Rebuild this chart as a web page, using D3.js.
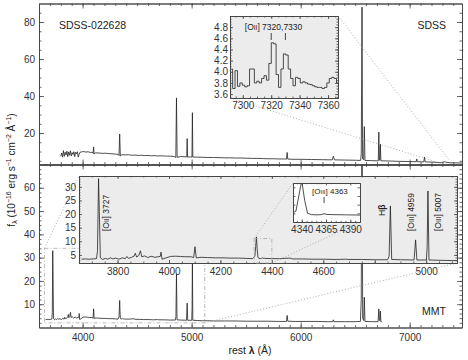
<!DOCTYPE html>
<html>
<head>
<meta charset="utf-8">
<script src="https://cdn.jsdelivr.net/npm/d3@7"></script>
<style>
body { margin: 0; background: #fff; }
svg { font-family: "Liberation Sans", "DejaVu Sans", sans-serif; }
.axis path { stroke: #444; stroke-width: 0.9; fill: none; }
.axis line { stroke: #444; stroke-width: 0.8; }
.axis text { fill: #333; }
.spec { fill: none; stroke: #222; stroke-width: 0.8; stroke-linejoin: round; }
.dot { stroke: #999; stroke-width: 0.8; stroke-dasharray: 1,2; fill: none; }
.dashdot { stroke: #aaa; stroke-width: 0.8; stroke-dasharray: 4,2,1,2; fill: none; }
</style>
</head>
<body>
<svg id="chart" width="468" height="360"></svg>
<script>
// SDSS spectrum, top panel (rest wavelength in A, flux in 1e-16 erg/s/cm2/A)
const sdssLam = [3800,3808,3816,3824,3832,3840,3848,3856,3864,3872,3880,3888,3896,3904,3912,3920,3928,3936,3944,3952,3960,3968,3976,3990,4010,4030,4050,4070,4090,4097,4101,4105,4120,4150,4180,4210,4240,4270,4300,4325,4334,4340,4346,4360,4390,4420,4450,4480,4510,4540,4570,4600,4630,4660,4690,4720,4750,4780,4810,4840,4855,4861,4867,4900,4930,4955,4959,4963,4990,5003,5007,5011,5050,5100,5150,5200,5250,5300,5350,5400,5450,5500,5550,5600,5650,5700,5750,5800,5850,5870,5876,5882,5950,6000,6100,6200,6290,6300,6310,6400,6500,6550,6556,6563,6568,6578,6584,6590,6650,6700,6712,6717,6722,6727,6731,6736,6800,6900,7000,7060,7065,7070,7130,7136,7142,7200,7290,7320,7330,7370,7420,7480];
const sdssFlux = [7.5,9.2,7.0,10.5,7.4,9.6,8.2,10.2,7.2,9.8,8.0,10.4,7.6,9.4,8.4,9.9,7.3,9.6,8.8,9.9,7.0,8.5,9.6,9.8,10.0,9.7,9.9,9.5,9.6,9.0,12.5,8.7,9.3,9.2,9.0,9.1,8.9,8.8,8.6,8.5,7.8,19.5,7.6,8.3,8.2,8.3,8.0,8.1,7.9,8.0,7.8,7.9,7.7,7.8,7.6,7.7,7.6,7.5,7.5,7.3,6.8,39,6.9,7.3,7.2,7.1,17,7.0,7.1,7.0,31,7.0,7.0,6.9,6.8,6.8,6.7,6.6,6.6,6.5,6.5,6.4,6.3,6.3,6.2,6.1,6.1,6.0,6.0,5.9,9.5,5.9,5.8,5.8,5.7,5.6,5.5,7.5,5.5,5.4,5.3,5.2,9,88,6,5.5,23.5,5.2,5.1,5.0,5.0,20.5,5.3,5.4,14,5.0,4.9,4.7,4.6,4.5,6,4.5,4.4,7,4.4,4.3,4.0,4.5,4.3,3.9,3.9,3.8];

// SDSS pixels around [OII] 7320,7330 (top inset)
const zoomLam = [7292,7293.7,7295.4,7297.1,7298.8,7300.5,7302.2,7303.9,7305.6,7307.3,7309,7310.7,7312.4,7314.1,7315.8,7317.5,7319.2,7320.9,7322.6,7324.3,7326,7327.7,7329.4,7331.1,7332.8,7334.5,7336.2,7337.9,7339.6,7341.3,7343,7344.7,7346.4,7348.1,7349.8,7351.5,7353.2,7354.9,7356.6,7358.3,7360,7361.7,7363.4,7365.1,7366.8];
const zoomFlux = [4.05,3.70,4.02,3.74,3.80,3.76,3.73,3.75,4.05,4.05,3.80,3.83,3.80,3.88,3.93,3.85,4.15,4.52,4.50,3.95,3.72,4.05,4.32,4.30,4.05,3.88,3.75,3.90,3.88,3.80,3.82,3.80,3.78,3.77,3.75,3.73,3.72,3.72,3.70,3.72,3.80,3.88,3.90,3.88,3.80];

// MMT spectrum, bottom panel
const mmtLam = [3660,3675,3690,3705,3718,3722,3726,3729,3733,3742,3752,3762,3772,3782,3792,3805,3818,3830,3836,3842,3855,3864,3869,3874,3882,3889,3894,3905,3918,3930,3945,3958,3966,3969,3973,3980,3992,4005,4025,4045,4065,4085,4096,4101,4106,4125,4150,4180,4210,4240,4270,4300,4325,4334,4337,4340,4343,4346,4350,4356,4360,4363,4366,4372,4385,4400,4430,4471,4480,4520,4560,4600,4650,4686,4700,4750,4800,4850,4856,4861,4866,4900,4953,4959,4964,5001,5004,5007,5011,5050,5100,5150,5200,5300,5400,5500,5600,5700,5800,5870,5876,5882,5950,6050,6150,6250,6294,6300,6306,6400,6500,6548,6556,6563,6569,6578,6584,6590,6650,6710,6717,6722,6727,6731,6736,6745];
const mmtFlux = [3.4,3.5,3.4,3.5,3.6,6.5,33,21,3.9,3.3,3.7,3.4,3.9,3.5,3.8,3.4,3.9,3.6,4.4,3.7,4.1,4.5,5.6,4.2,4.7,6.5,4.3,4.6,4.0,4.5,4.1,4.3,4.4,6.0,3.4,3.6,4.0,4.4,4.5,4.4,4.3,4.3,4.0,8.0,3.9,4.1,4.0,3.9,3.9,3.8,3.8,3.7,3.6,4.5,8,11.6,7,4.0,3.7,3.65,3.7,3.9,3.75,3.7,3.65,3.6,3.6,3.8,3.5,3.5,3.4,3.4,3.3,3.4,3.3,3.3,3.2,3.2,4.5,23,3.3,3.2,3.1,10.5,3.1,3.1,8,28.5,3.1,3.0,2.9,2.9,2.8,2.8,2.8,2.7,2.7,2.7,2.6,2.6,5.2,2.7,2.6,2.6,2.6,2.5,2.5,3.3,2.5,2.5,2.5,2.6,12,110,4,3,13,2.6,2.5,2.5,8,3,3,7,2.5,2.5];

// tick values
const xMajor = [4000, 5000, 6000, 7000];
const topYMajor = [20, 40, 60, 80];
const botYMajor = [10, 20, 30, 40, 50, 60];
const insYMajor = [3.6, 3.8, 4.0, 4.2, 4.4, 4.6, 4.8];
const insXMajor = [7300, 7320, 7340, 7360];
const bigXMajor = [3800, 4000, 4200, 4400, 4600, 4800, 5000];
const bigXLabels = [3800, 4000, 4200, 4400, 4600, 5000];
const bigYMajor = [5, 10, 15, 20, 25, 30];
const smallXMajor = [4340, 4365, 4390];

const svg = d3.select("#chart");

const x = d3.scaleLinear().domain([3600, 7480]).range([39, 462]);
const yTop = d3.scaleLinear().domain([3, 90]).range([164.5, 3.5]);
const yBot = d3.scaleLinear().domain([0, 70]).range([327.5, 164.5]);

// insets
const xIns = d3.scaleLinear().domain([7291, 7367]).range([230, 338]);
const yIns = d3.scaleLinear().domain([3.53, 5.0]).range([98, 16]);
const xBig = d3.scaleLinear().domain([3650, 5120]).range([79, 457]);
const yBig = d3.scaleLinear().domain([2, 34]).range([263, 176]);
const xSm = d3.scaleLinear().domain([4331, 4400]).range([293, 360]);
const ySm = d3.scaleLinear().domain([2, 11]).range([222, 183]);

function clipFor(id, xs, ys) {
    const [l, r] = xs.range(), [b, t] = ys.range();
    svg.append("clipPath").attr("id", id).append("rect")
        .attr("x", l).attr("y", t).attr("width", r - l).attr("height", b - t);
    return "url(#" + id + ")";
}

function spectrum(lam, flux, xs, ys, id, curve) {
    const line = d3.line()
        .x(i => xs(lam[i]))
        .y(i => ys(flux[i]))
        .curve(curve || d3.curveLinear);
    svg.append("path")
        .attr("class", "spec")
        .attr("clip-path", clipFor(id, xs, ys))
        .attr("d", line(d3.range(lam.length)));
}

function panelBox(xs, ys, fill) {
    const [l, r] = xs.range(), [b, t] = ys.range();
    svg.append("rect").attr("x", l).attr("y", t)
        .attr("width", r - l).attr("height", b - t)
        .attr("fill", fill);
}

// ticks on all four sides, pointing inward
function axes(xs, ys, o) {
    const g = svg.append("g").attr("class", "axis").attr("font-size", o.font);
    const [l, r] = xs.range(), [b, t] = ys.range();
    const blank = () => "";
    const put = (axis, tr) => g.append("g").attr("transform", tr).call(axis);
    const mk = (fn, s, vals, len) => fn(s).tickValues(vals).tickSize(-len).tickSizeOuter(0).tickFormat(blank);

    put(mk(d3.axisBottom, xs, o.xMinor, o.minor), `translate(0,${b})`);
    put(mk(d3.axisTop, xs, o.xMinor, o.minor), `translate(0,${t})`);
    put(mk(d3.axisLeft, ys, o.yMinor, o.minor), `translate(${l},0)`);
    put(mk(d3.axisRight, ys, o.yMinor, o.minor), `translate(${r},0)`);

    put(mk(d3.axisTop, xs, o.xMajor, o.major), `translate(0,${t})`);
    put(mk(d3.axisRight, ys, o.yMajor, o.major), `translate(${r},0)`);
    put(d3.axisBottom(xs).tickValues(o.xMajor).tickSize(-o.major).tickSizeOuter(0)
        .tickPadding(o.xPad)
        .tickFormat(d => (o.xLabels && o.xLabels.includes(d)) ? o.xFmt(d) : ""), `translate(0,${b})`);
    put(d3.axisLeft(ys).tickValues(o.yMajor).tickSize(-o.major).tickSizeOuter(0)
        .tickPadding(o.yPad)
        .tickFormat(d => o.yLabels ? o.yFmt(d) : ""), `translate(${l},0)`);
    return g;
}

// ---- main panels
spectrum(sdssLam, sdssFlux, x, yTop, "clipTop");
spectrum(mmtLam, mmtFlux, x, yBot, "clipBot");

const xMinor = d3.range(3600, 7481, 100);
axes(x, yTop, {
    font: 10, major: 5, minor: 2.5, xPad: 4, yPad: 4,
    xMajor: xMajor, xMinor: xMinor,
    yMajor: topYMajor, yMinor: d3.range(5, 90, 5), yLabels: true, yFmt: d3.format("d")
});
axes(x, yBot, {
    font: 10, major: 5, minor: 2.5, xPad: 6, yPad: 4,
    xMajor: xMajor, xMinor: xMinor, xLabels: xMajor, xFmt: d3.format("d"),
    yMajor: botYMajor, yMinor: d3.range(2, 70, 2), yLabels: true, yFmt: d3.format("d")
});

// zoom regions and connectors in the main panels
svg.append("rect").attr("class", "dashdot")
    .attr("x", x(3650)).attr("y", yBot(34))
    .attr("width", x(5120) - x(3650)).attr("height", yBot(2) - yBot(34));
svg.append("line").attr("class", "dot")
    .attr("x1", x(3650)).attr("y1", yBot(34)).attr("x2", xBig(3650)).attr("y2", yBig(34));
svg.append("line").attr("class", "dot")
    .attr("x1", x(5120)).attr("y1", yBot(2)).attr("x2", xBig(5120)).attr("y2", yBig(2));

svg.append("line").attr("class", "dot")
    .attr("x1", xIns(7291)).attr("y1", yIns(3.53)).attr("x2", x(7291)).attr("y2", yTop(3.53));
svg.append("line").attr("class", "dot")
    .attr("x1", xIns(7367)).attr("y1", yIns(5.0)).attr("x2", x(7367)).attr("y2", yTop(5.0));

// ---- top inset: [OII] 7320,7330
panelBox(xIns, yIns, "#ececec");
spectrum(zoomLam, zoomFlux, xIns, yIns, "clipIns", d3.curveStep);
axes(xIns, yIns, {
    font: 7, major: 3, minor: 1.5, xPad: 4, yPad: 2,
    xMajor: insXMajor, xMinor: d3.range(7295, 7368, 5), xLabels: insXMajor, xFmt: d3.format("d"),
    yMajor: insYMajor, yMinor: d3.range(3.55, 5.0, 0.05), yLabels: true, yFmt: d3.format(".1f")
});
[7320, 7330].forEach(l => {
    svg.append("line").attr("stroke", "#333").attr("stroke-width", 0.9)
        .attr("x1", xIns(l)).attr("x2", xIns(l)).attr("y1", 33).attr("y2", 40);
});
svg.append("text").attr("x", xIns(7300) + 2).attr("y", 30).attr("font-size", 8.5).attr("fill", "#222")
    .html('[O<tspan font-size="6.5">II</tspan>] 7320,7330');

// ---- bottom inset: blue part of MMT spectrum
panelBox(xBig, yBig, "#ececec");
spectrum(mmtLam, mmtFlux, xBig, yBig, "clipBig");
axes(xBig, yBig, {
    font: 7, major: 3, minor: 1.5, xPad: 5, yPad: 3,
    xMajor: bigXMajor, xMinor: d3.range(3650, 5121, 50), xLabels: bigXLabels, xFmt: d3.format("d"),
    yMajor: bigYMajor, yMinor: d3.range(2, 34, 1), yLabels: true, yFmt: d3.format("d")
});

svg.append("rect").attr("class", "dashdot")
    .attr("x", xBig(4331)).attr("y", yBig(11))
    .attr("width", xBig(4400) - xBig(4331)).attr("height", yBig(2) - yBig(11));
svg.append("line").attr("class", "dot")
    .attr("x1", xBig(4331)).attr("y1", yBig(11)).attr("x2", xSm(4331)).attr("y2", ySm(11));
svg.append("line").attr("class", "dot")
    .attr("x1", xBig(4400)).attr("y1", yBig(2)).attr("x2", xSm(4400)).attr("y2", ySm(2));

function vlabel(xp, yp, html) {
    svg.append("text").attr("transform", `translate(${xp},${yp}) rotate(-90)`)
        .attr("font-size", 8.5).attr("fill", "#222").html(html);
}
vlabel(xBig(3727) + 10, 231, '[O<tspan font-size="6.5">II</tspan>] 3727');
vlabel(xBig(4861) - 5, 216, 'H<tspan font-weight="bold">β</tspan>');
vlabel(xBig(4959) - 2, 231, '[O<tspan font-size="6.5">III</tspan>] 4959');
vlabel(xBig(5007) + 13, 231, '[O<tspan font-size="6.5">III</tspan>] 5007');

// ---- small inset: [OIII] 4363
panelBox(xSm, ySm, "#fff");
spectrum(mmtLam, mmtFlux, xSm, ySm, "clipSm");
axes(xSm, ySm, {
    font: 6.5, major: 2.5, minor: 1.2, xPad: 4, yPad: 2,
    xMajor: smallXMajor, xMinor: d3.range(4335, 4400, 5), xLabels: smallXMajor, xFmt: d3.format("d"),
    yMajor: [4, 6, 8, 10], yMinor: [], yLabels: false
});
svg.append("line").attr("stroke", "#333").attr("stroke-width", 0.9)
    .attr("x1", xSm(4363)).attr("x2", xSm(4363)).attr("y1", 197).attr("y2", 203);
svg.append("text").attr("x", xSm(4363) - 12).attr("y", 194).attr("font-size", 8).attr("fill", "#222")
    .html('[O<tspan font-size="6">III</tspan>] 4363');

// ---- panel names
svg.append("text").attr("x", 59).attr("y", 29).attr("font-size", 10.5).attr("fill", "#222").text("SDSS-022628");
svg.append("text").attr("x", 446).attr("y", 29).attr("text-anchor", "end").attr("font-size", 10.5).attr("fill", "#222").text("SDSS");
svg.append("text").attr("x", 446).attr("y", 315).attr("text-anchor", "end").attr("font-size", 10.5).attr("fill", "#222").text("MMT");

// ---- axis titles
svg.append("text").attr("x", 250).attr("y", 354).attr("text-anchor", "middle")
    .attr("font-size", 10.5).attr("fill", "#222")
    .html('rest <tspan font-weight="bold">λ</tspan> (Å)');
svg.append("text").attr("transform", "translate(15,170) rotate(-90)").attr("text-anchor", "middle")
    .attr("font-size", 10).attr("fill", "#222")
    .html('f<tspan font-size="7" dy="2">λ</tspan><tspan dy="-2"> (10</tspan><tspan font-size="7" dy="-4">−16</tspan><tspan dy="4"> erg s</tspan><tspan font-size="7" dy="-4">−1</tspan><tspan dy="4"> cm</tspan><tspan font-size="7" dy="-4">−2</tspan><tspan dy="4"> Å</tspan><tspan font-size="7" dy="-4">−1</tspan><tspan dy="4">)</tspan>');
</script>
</body>
</html>
